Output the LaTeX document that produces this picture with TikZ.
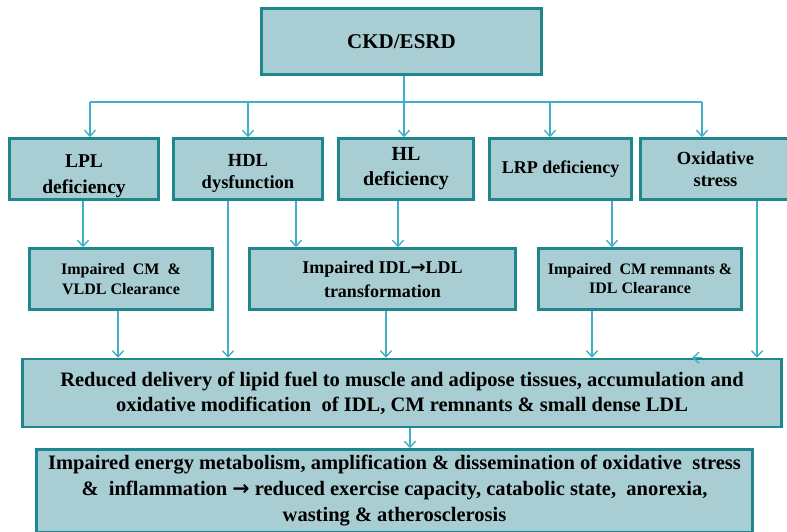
\documentclass[tikz,border=0pt]{standalone}
\usepackage{fontspec}
\setmainfont{Liberation Serif}
\newfontfamily\arrowfont{DejaVu Sans}
\usetikzlibrary{arrows.meta}
\definecolor{boxfill}{RGB}{168,205,210}
\definecolor{boxline}{RGB}{30,135,142}
\definecolor{linkcol}{RGB}{64,176,200}
\newcommand{\fs}[2]{\bfseries\fontsize{#1}{#2}\selectfont}
\tikzset{
  box/.style={draw=boxline, fill=boxfill, line width=2.5pt, align=center, inner sep=2pt},
  wire/.style={draw=linkcol, line width=1.4pt},
  link/.style={wire, -{Straight Barb[length=6pt,width=11pt,line width=1.4pt]}},
}
\begin{document}
\begin{tikzpicture}[x=1pt,y=-1pt]
  \useasboundingbox (0,0) rectangle (787,531);
  % top box
  \node[box, minimum width=280pt, minimum height=66pt, font=\fs{21}{25}] (ckd) at (401.5,41.5) {CKD/ESRD};
  % causes
  \node[box, minimum width=149pt, minimum height=61pt, font=\fs{19.5}{26}] (lpl) at (84,169) {\rule{0pt}{27pt}LPL\\deficiency};
  \node[box, minimum width=149pt, minimum height=61pt, font=\fs{18.5}{22}] (hdl) at (248,169) {\rule{0pt}{21pt}HDL\\dysfunction};
  \node[box, minimum width=135pt, minimum height=61pt, font=\fs{20}{25}] (hl) at (406,169) {HL\\deficiency};
  \node[box, minimum width=142pt, minimum height=61pt, font=\fs{18}{22}] (lrp) at (560.5,169) {LRP deficiency};
  \node[box, minimum width=150pt, minimum height=61pt, font=\fs{18.5}{22}] (oxs) at (715.5,169) {Oxidative\\stress};
  % impaired clearance
  \node[box, minimum width=183pt, minimum height=61pt, font=\fs{16}{20}] (cmv) at (121,279) {Impaired~~CM~~\&\\VLDL Clearance};
  \node[box, minimum width=266pt, minimum height=61pt, font=\fs{18}{24}] (idl) at (382.5,279) {Impaired IDL{\arrowfont →}LDL\\transformation};
  \node[box, minimum width=203pt, minimum height=61pt, font=\fs{16}{19}] (cmr) at (640,279) {Impaired~~CM remnants \&\\IDL Clearance};
  % consequences
  \node[box, minimum width=759pt, minimum height=68pt, font=\fs{20.5}{25}] (red) at (402,393)
    {Reduced delivery of lipid fuel to muscle and adipose tissues, accumulation and\\oxidative modification~ of IDL, CM remnants \& small dense LDL};
  \node[box, minimum width=716pt, minimum height=83pt, font=\fs{20.5}{26}] (imp) at (394.5,491)
    {Impaired energy metabolism, amplification \& dissemination of oxidative~ stress\\\&~ inflammation {\arrowfont →} reduced exercise capacity, catabolic state,~ anorexia,\\wasting \& atherosclerosis};
  % bus from the top box
  \coordinate (bl) at (90,102);
  \coordinate (br) at (702,102);
  \draw[wire] (ckd.south -| 404,0) -- (404,0 |- bl);
  \draw[wire] (bl) -- (br);
  \foreach \x/\n in {90/lpl, 248/hdl, 404/hl, 550/lrp, 702/oxs} {
    \coordinate (t\n) at (\x,102);
    \draw[link] (t\n) -- (t\n |- \n.north);
  }
  % second row down
  \draw[link] ([xshift=-1pt]lpl.south) -- ([xshift=-1pt]lpl.south |- cmv.north);
  \draw[link] ([xshift=-20pt]hdl.south) -- ([xshift=-20pt]hdl.south |- red.north);
  \draw[link] ([xshift=48pt]hdl.south) -- ([xshift=48pt]hdl.south |- idl.north);
  \draw[link] ([xshift=-8pt]hl.south) -- ([xshift=-8pt]hl.south |- idl.north);
  \draw[link] ([xshift=51.5pt]lrp.south) -- ([xshift=51.5pt]lrp.south |- cmr.north);
  \draw[link] ([xshift=41.5pt]oxs.south) -- ([xshift=41.5pt]oxs.south |- red.north);
  % third row down
  \draw[link] ([xshift=-3pt]cmv.south) -- ([xshift=-3pt]cmv.south |- red.north);
  \draw[link] ([xshift=3.5pt]idl.south) -- ([xshift=3.5pt]idl.south |- red.north);
  \draw[link] ([xshift=-48pt]cmr.south) -- ([xshift=-48pt]cmr.south |- red.north);
  \draw[link] ([xshift=300pt]red.north) -- ([xshift=290pt]red.north);
  % to the last box
  \draw[link] ([xshift=8pt]red.south) -- ([xshift=8pt]red.south |- imp.north);
\end{tikzpicture}
\end{document}
